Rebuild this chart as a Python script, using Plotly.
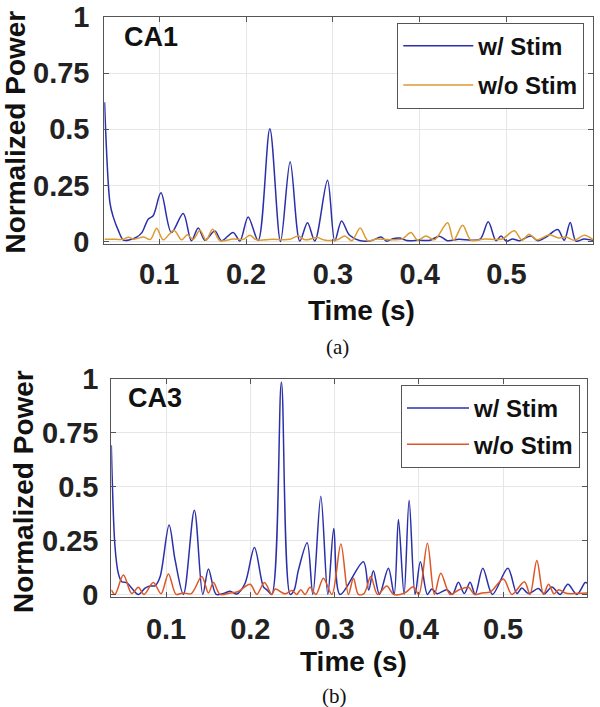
import plotly.graph_objects as go

# ---------------- Panel (a) CA1 ----------------
ca1_stim_t = [0.037, 0.0433, 0.047, 0.0528, 0.0586, 0.066, 0.074, 0.080, 0.0873, 0.093, 0.102, 0.114,
              0.1276, 0.137, 0.1449, 0.1526, 0.164, 0.1718, 0.1852, 0.1929, 0.2024, 0.2139, 0.2274,
              0.2397, 0.2508, 0.2619, 0.2708, 0.2792, 0.2938, 0.3022, 0.310, 0.319, 0.3306, 0.344,
              0.3556, 0.362, 0.369, 0.3766, 0.385, 0.400, 0.412, 0.4227, 0.432, 0.445, 0.460, 0.470,
              0.479, 0.488, 0.4937, 0.500, 0.507, 0.515, 0.528, 0.536, 0.5455, 0.559, 0.5665, 0.5734,
              0.580, 0.5895, 0.600]
ca1_stim_y = [0.62, 0.17, 0.11, 0.05, 0.007, 0.008, 0.02, 0.04, 0.10, 0.115, 0.217, 0.04,
              0.125, 0.004, 0.061, 0.006, 0.047, 0.004, 0.041, 0.003, 0.11, 0.005, 0.503,
              0.0, 0.356, 0.003, 0.084, 0.003, 0.273, 0.003, 0.092, 0.029, 0.005, 0.004,
              0.02, 0.002, 0.013, 0.016, 0.005, 0.006, 0.006, 0.024, 0.004, 0.01, 0.006, 0.012,
              0.088, 0.004, 0.025, 0.002, 0.012, 0.004, 0.025, 0.004, 0.02, 0.054, 0.006, 0.085,
              0.002, 0.012, 0.005]

ca1_nostim_t = [0.037, 0.050, 0.058, 0.0643, 0.071, 0.0816, 0.090, 0.097, 0.1046, 0.1169, 0.1258,
                0.1325, 0.139, 0.1468, 0.154, 0.1614, 0.170, 0.185, 0.197, 0.2044, 0.212, 0.230,
                0.250, 0.260, 0.268, 0.2823, 0.290, 0.305, 0.3137, 0.322, 0.3314, 0.3402, 0.350,
                0.365, 0.380, 0.390, 0.3977, 0.4074, 0.417, 0.4322, 0.4391, 0.4495, 0.4591, 0.475,
                0.495, 0.509, 0.518, 0.526, 0.535, 0.5496, 0.560, 0.5687, 0.578, 0.5897, 0.600]
ca1_nostim_y = [0.01, 0.01, 0.01, 0.019, 0.011, 0.02, 0.01, 0.059, 0.008, 0.051, 0.008,
                0.03, 0.01, 0.05, 0.006, 0.055, 0.004, 0.012, 0.01, 0.028, 0.008, 0.01,
                0.01, 0.025, 0.008, 0.018, 0.007, 0.008, 0.025, 0.004, 0.061, 0.004, 0.012,
                0.008, 0.012, 0.041, 0.006, 0.025, 0.008, 0.084, 0.006, 0.073, 0.006, 0.012,
                0.012, 0.048, 0.006, 0.033, 0.008, 0.03, 0.016, 0.02, 0.006, 0.028, 0.008]

# ---------------- Panel (b) CA3 ----------------
ca3_stim_t = [0.035, 0.0394, 0.0433, 0.0474, 0.0533, 0.0593, 0.0671, 0.075, 0.081, 0.087, 0.0929,
              0.1036, 0.1107, 0.1206, 0.1336, 0.1436, 0.1503, 0.1594, 0.168, 0.176, 0.184, 0.1938,
              0.2049, 0.2156, 0.220, 0.2255, 0.2369, 0.2473, 0.252, 0.2571, 0.2675, 0.2742, 0.2837,
              0.292, 0.2991, 0.3065, 0.3342, 0.3405, 0.3461, 0.3532, 0.3639, 0.3707, 0.3758, 0.3825,
              0.3885, 0.3956, 0.4019, 0.4102, 0.4154, 0.422, 0.4333, 0.440, 0.447, 0.454, 0.4609,
              0.4669, 0.476, 0.4874, 0.5057, 0.5164, 0.5223, 0.530, 0.542, 0.549, 0.558, 0.5678,
              0.577, 0.5876, 0.5975, 0.600]
ca3_stim_y = [0.692, 0.221, 0.098, 0.059, 0.055, 0.029, 0.0, 0.029, 0.039, 0.04, 0.082,
              0.322, 0.16, 0.0, 0.391, 0.0, 0.118, 0.0, 0.004, 0.015, 0.002, 0.052,
              0.218, 0.035, 0.02, 0.0, 0.985, 0.0, 0.02, 0.113, 0.24, 0.0, 0.456,
              0.0, 0.306, 0.0, 0.152, 0.02, 0.11, 0.0, 0.121, 0.0, 0.348, 0.0,
              0.437, 0.0, 0.152, 0.0, 0.025, 0.003, 0.022, 0.0, 0.056, 0.004, 0.056,
              0.0, 0.121, 0.0, 0.121, 0.004, 0.03, 0.004, 0.027, 0.003, 0.035, 0.0,
              0.047, 0.0, 0.055, 0.053]

ca3_nostim_t = [0.035, 0.0394, 0.0493, 0.0593, 0.0671, 0.0739, 0.0849, 0.0941, 0.1028, 0.1119,
                0.120, 0.130, 0.1424, 0.1503, 0.1562, 0.1641, 0.176, 0.185, 0.1998, 0.2077,
                0.2168, 0.2255, 0.2295, 0.2413, 0.2493, 0.255, 0.260, 0.265, 0.271, 0.278,
                0.2868, 0.2968, 0.3075, 0.3164, 0.3224, 0.3283, 0.335, 0.343, 0.351, 0.362,
                0.370, 0.383, 0.3936, 0.400, 0.4102, 0.4185, 0.4261, 0.4372, 0.448, 0.459,
                0.466, 0.475, 0.485, 0.5005, 0.5105, 0.5254, 0.532, 0.5401, 0.548, 0.554,
                0.5605, 0.566, 0.575, 0.590, 0.600]
ca3_nostim_y = [0.021, 0.0, 0.09, 0.004, 0.033, 0.0, 0.055, 0.003, 0.095, 0.0,
                0.007, 0.004, 0.083, 0.007, 0.055, 0.0, 0.007, 0.012, 0.047, 0.0,
                0.055, 0.0, 0.025, 0.003, 0.018, 0.0, 0.022, 0.0, 0.033, 0.0,
                0.075, 0.0, 0.234, 0.0, 0.075, 0.0, 0.004, 0.083, 0.0, 0.039,
                0.0, 0.006, 0.035, 0.0, 0.237, 0.0, 0.098, 0.0, 0.022, 0.033,
                0.0, 0.007, 0.012, 0.072, 0.0, 0.059, 0.0, 0.157, 0.0, 0.047,
                0.003, 0.022, 0.005, 0.005, 0.006]

y_tickvals = [0, 0.25, 0.5, 0.75, 1]
y_ticktext = ["0", "0.25", "0.5", "0.75", "1"]
x_tickvals = [0.1, 0.2, 0.3, 0.4, 0.5]
x_ticktext = ["0.1", "0.2", "0.3", "0.4", "0.5"]

BLUE = "#2B30A8"
ORANGE_A = "#DC9A33"
ORANGE_B = "#DC5726"
SANS = "Liberation Sans, Arial, sans-serif"
SERIF = "Liberation Serif, Times New Roman, serif"

W, H = 600, 707


def px(x):
    return x / W


def py(y):
    return 1 - y / H


fig = go.Figure()
line_kw = dict(shape="spline", smoothing=0.9, width=1.5)
fig.add_trace(go.Scatter(x=ca1_stim_t, y=ca1_stim_y, mode="lines", name="w/ Stim", legendgroup="a1",
                         line=dict(color=BLUE, **line_kw), xaxis="x", yaxis="y", legend="legend"))
fig.add_trace(go.Scatter(x=ca1_nostim_t, y=ca1_nostim_y, mode="lines", name="w/o Stim", legendgroup="a2",
                         line=dict(color=ORANGE_A, **line_kw), xaxis="x", yaxis="y", legend="legend"))
fig.add_trace(go.Scatter(x=ca3_stim_t, y=ca3_stim_y, mode="lines", name="w/ Stim", legendgroup="b1",
                         line=dict(color=BLUE, **line_kw), xaxis="x2", yaxis="y2", legend="legend2"))
fig.add_trace(go.Scatter(x=ca3_nostim_t, y=ca3_nostim_y, mode="lines", name="w/o Stim", legendgroup="b2",
                         line=dict(color=ORANGE_B, **line_kw), xaxis="x2", yaxis="y2", legend="legend2"))

tick_font = dict(family=SANS, size=29, color="#222222", weight="bold")
ax_common = dict(showgrid=True, gridcolor="#e6e6e6", gridwidth=1, zeroline=False,
                 showline=True, linecolor="#555555", linewidth=1, mirror="ticks",
                 ticks="inside", ticklen=5, tickcolor="#555555", tickfont=tick_font,
                 automargin=False)

legend_font = dict(family=SANS, size=24, color="#111111", weight="bold")
fig.update_layout(
    width=W, height=H, autosize=False,
    margin=dict(l=0, r=0, t=0, b=0, autoexpand=False),
    paper_bgcolor="white", plot_bgcolor="white",
    xaxis=dict(domain=[px(104.3), px(593.3)], range=[0.0367, 0.6], anchor="y",
               tickvals=x_tickvals, ticktext=x_ticktext, ticklabelstandoff=4, **ax_common),
    yaxis=dict(domain=[py(244.3), py(17)], range=[-0.012, 1.0], anchor="x",
               tickvals=y_tickvals, ticktext=y_ticktext, ticklabelstandoff=8, **ax_common),
    xaxis2=dict(domain=[px(111.3), px(587.3)], range=[0.035, 0.6], anchor="y2",
                tickvals=x_tickvals, ticktext=x_ticktext, ticklabelstandoff=6, **ax_common),
    yaxis2=dict(domain=[py(597), py(379)], range=[-0.012, 1.0], anchor="x2",
                tickvals=y_tickvals, ticktext=y_ticktext, ticklabelstandoff=6, **ax_common),
    legend=dict(x=px(397.3), y=py(22.7), xanchor="left", yanchor="top",
                bgcolor="white", bordercolor="#555555", borderwidth=1,
                font=legend_font, itemwidth=70, tracegroupgap=5),
    legend2=dict(x=px(401), y=py(385), xanchor="left", yanchor="top",
                 bgcolor="white", bordercolor="#555555", borderwidth=1,
                 font=legend_font, itemwidth=62, tracegroupgap=2),
    showlegend=True,
)

annotations = [
    dict(text="CA1", x=px(122), y=py(36.7), xanchor="left", yanchor="middle",
         font=dict(family=SANS, size=27, color="#111111", weight="bold")),
    dict(text="CA3", x=px(125.7), y=py(398.3), xanchor="left", yanchor="middle",
         font=dict(family=SANS, size=27, color="#111111", weight="bold")),
    dict(text="Normalized Power", x=px(15), y=py(132.5), textangle=-90,
         xanchor="center", yanchor="middle",
         font=dict(family=SANS, size=28, color="#111111", weight="bold")),
    dict(text="Normalized Power", x=px(23), y=py(492), textangle=-90,
         xanchor="center", yanchor="middle",
         font=dict(family=SANS, size=28, color="#111111", weight="bold")),
    dict(text="Time (s)", x=px(361.7), y=py(310), xanchor="center", yanchor="middle",
         font=dict(family=SANS, size=28, color="#111111", weight="bold")),
    dict(text="Time (s)", x=px(353), y=py(661), xanchor="center", yanchor="middle",
         font=dict(family=SANS, size=28, color="#111111", weight="bold")),
    dict(text="(a)", x=px(337.8), y=py(347), xanchor="center", yanchor="middle",
         font=dict(family=SERIF, size=21, color="#111111")),
    dict(text="(b)", x=px(334.6), y=py(696), xanchor="center", yanchor="middle",
         font=dict(family=SERIF, size=21, color="#111111")),
]
for a in annotations:
    a.update(xref="paper", yref="paper", showarrow=False)
fig.update_layout(annotations=annotations)

fig.write_html("out.html", config={"displayModeBar": False},
               post_script="document.body.style.margin='0';document.body.style.overflow='hidden';")
